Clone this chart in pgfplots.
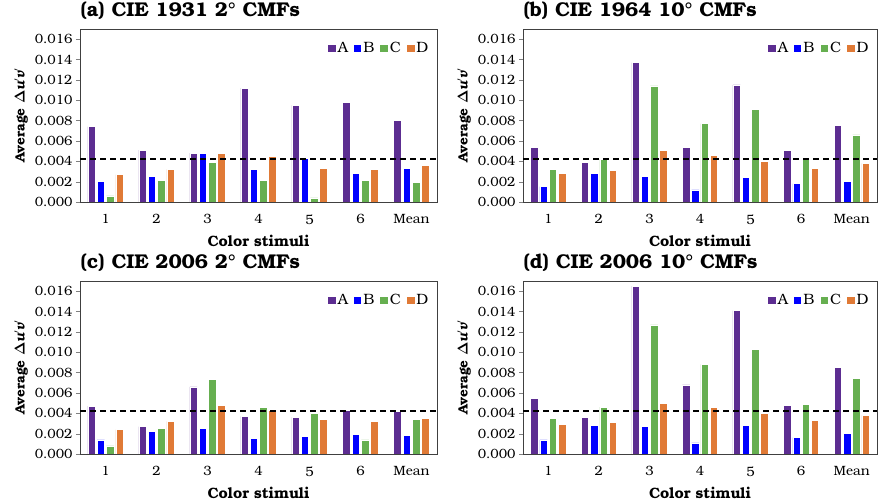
\documentclass[border=0pt]{standalone}
\usepackage[no-math]{fontspec}
\setmainfont{texgyrebonum}[Extension=.otf, UprightFont=*-regular, BoldFont=*-bold, ItalicFont=*-italic, BoldItalicFont=*-bolditalic]
\usepackage{pgfplots}
\usepackage{pgfplotstable}
\pgfplotsset{compat=1.18}
\definecolor{cA}{RGB}{92,45,145}
\definecolor{cB}{RGB}{0,0,255}
\definecolor{cC}{RGB}{102,175,80}
\definecolor{cD}{RGB}{224,122,54}

\pgfplotstableread{
x A B C D
0 0.0074 0.0020 0.0006 0.0027
1 0.0051 0.0025 0.0021 0.0032
2 0.0048 0.0048 0.0039 0.0048
3 0.0112 0.0032 0.0021 0.0045
4 0.0095 0.0043 0.0004 0.0033
5 0.0098 0.0028 0.0021 0.0032
6 0.0080 0.0033 0.0019 0.0036
}\tA
\pgfplotstableread{
x A B C D
0 0.0054 0.0015 0.0032 0.0028
1 0.0039 0.0028 0.0042 0.0031
2 0.0137 0.0025 0.0114 0.0051
3 0.0054 0.0012 0.0077 0.0046
4 0.0115 0.0024 0.0091 0.0040
5 0.0051 0.0018 0.0043 0.0033
6 0.0075 0.0020 0.0066 0.0038
}\tB
\pgfplotstableread{
x A B C D
0 0.0047 0.0014 0.0008 0.0024
1 0.0027 0.0022 0.0025 0.0032
2 0.0066 0.0025 0.0073 0.0048
3 0.0037 0.0015 0.0046 0.0043
4 0.0036 0.0017 0.0040 0.0034
5 0.0043 0.0019 0.0014 0.0032
6 0.0042 0.0018 0.0034 0.0035
}\tC
\pgfplotstableread{
x A B C D
0 0.0055 0.0014 0.0035 0.0029
1 0.0036 0.0028 0.0046 0.0031
2 0.0165 0.0027 0.0127 0.0050
3 0.0068 0.0011 0.0088 0.0046
4 0.0141 0.0028 0.0103 0.0040
5 0.0048 0.0016 0.0049 0.0033
6 0.0085 0.0020 0.0074 0.0038
}\tD

\pgfplotsset{
  panel/.style={
    anchor=south west, scale only axis, width=357bp, height=173bp,
    xmin=-0.5, xmax=6.5, ymin=0, ymax=0.017,
    xtick={0,1,2,3,4,5,6}, xticklabels={1,2,3,4,5,6,Mean},
    ytick={0,0.002,0.004,0.006,0.008,0.010,0.012,0.014,0.016},
    scaled y ticks=false,
    yticklabel style={/pgf/number format/.cd, fixed, fixed zerofill, precision=3},
    /pgf/number format/assume math mode=true,
    tick label style={font=\fontsize{13.5}{14}\selectfont},
    xticklabel style={yshift=-5bp},
    ytick pos=left, tick align=outside, major tick length=4bp,
    xtick style={draw=none},
    axis line style={black!75, line width=0.8bp},
    title style={at={(0,1)}, anchor=base west, yshift=6.5bp, xshift=-3bp,
      font=\fontsize{20}{22}\selectfont\bfseries},
    xlabel={Color stimuli},
    ylabel={Average $\mathbf{\Delta}$\textit{u$'$v$'$}},
    label style={font=\fontsize{13.5}{14}\selectfont\bfseries},
    xlabel style={font=\fontsize{15}{16}\selectfont\bfseries, yshift=-4bp},
    legend columns=4,
    legend style={draw=none, fill=none, at={(0.985,0.94)}, anchor=north east,
      font=\fontsize{15}{16}\selectfont, inner sep=1bp,
      /tikz/every even column/.append style={column sep=4bp}},
    legend image code/.code={\path[##1,draw=none] (0bp,-3.8bp) rectangle (7.5bp,3.8bp);},
  },
  bA/.style={ybar, fill=cA, draw=white, line width=0.5bp, bar width=0.147, bar shift=-0.2745},
  bB/.style={ybar, fill=cB, draw=white, line width=0.5bp, bar width=0.147, bar shift=-0.0915},
  bC/.style={ybar, fill=cC, draw=white, line width=0.5bp, bar width=0.147, bar shift=0.0915},
  bD/.style={ybar, fill=cD, draw=white, line width=0.5bp, bar width=0.147, bar shift=0.2745},
  thr/.style={forget plot, black, line width=1.6bp, dash pattern=on 6bp off 4bp},
}

\begin{document}
\begin{tikzpicture}
\path[use as bounding box] (0,0) rectangle (878bp,504bp);

\begin{axis}[panel, at={(80bp,302bp)}, title={(a) CIE 1931 2° CMFs}]
\addplot[bA] table[x=x,y=A]{\tA};
\addplot[bB] table[x=x,y=B]{\tA};
\addplot[bC] table[x=x,y=C]{\tA};
\addplot[bD] table[x=x,y=D]{\tA};
\addplot[thr] coordinates {(-0.5,0.0042) (6.5,0.0042)};
\legend{A,B,C,D}
\end{axis}

\begin{axis}[panel, width=354bp, at={(523bp,302bp)}, title={(b) CIE 1964 10° CMFs}]
\addplot[bA] table[x=x,y=A]{\tB};
\addplot[bB] table[x=x,y=B]{\tB};
\addplot[bC] table[x=x,y=C]{\tB};
\addplot[bD] table[x=x,y=D]{\tB};
\addplot[thr] coordinates {(-0.5,0.0042) (6.5,0.0042)};
\legend{A,B,C,D}
\end{axis}

\begin{axis}[panel, at={(80bp,50bp)}, title={(c) CIE 2006 2° CMFs}]
\addplot[bA] table[x=x,y=A]{\tC};
\addplot[bB] table[x=x,y=B]{\tC};
\addplot[bC] table[x=x,y=C]{\tC};
\addplot[bD] table[x=x,y=D]{\tC};
\addplot[thr] coordinates {(-0.5,0.0042) (6.5,0.0042)};
\legend{A,B,C,D}
\end{axis}

\begin{axis}[panel, width=354bp, at={(523bp,50bp)}, title={(d) CIE 2006 10° CMFs}]
\addplot[bA] table[x=x,y=A]{\tD};
\addplot[bB] table[x=x,y=B]{\tD};
\addplot[bC] table[x=x,y=C]{\tD};
\addplot[bD] table[x=x,y=D]{\tD};
\addplot[thr] coordinates {(-0.5,0.0042) (6.5,0.0042)};
\legend{A,B,C,D}
\end{axis}
\end{tikzpicture}
\end{document}
